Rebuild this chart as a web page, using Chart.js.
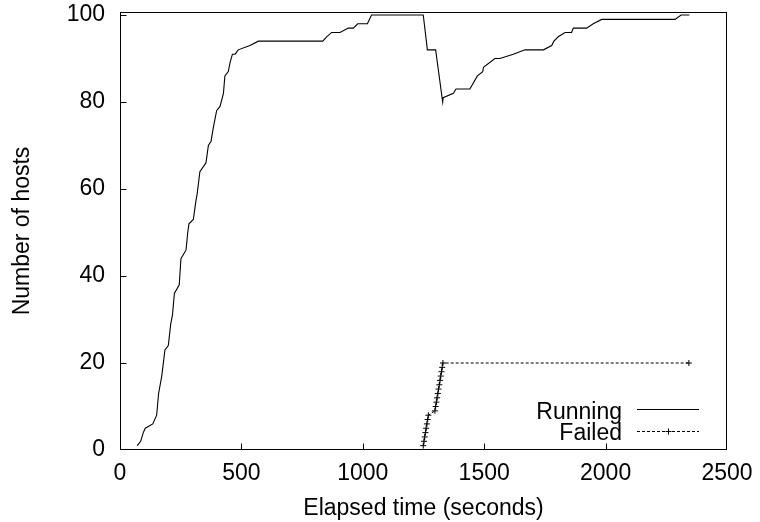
<!DOCTYPE html>
<html>
<head>
<meta charset="utf-8">
<script src="https://cdn.jsdelivr.net/npm/chart.js@4/dist/chart.umd.min.js"></script>
<style>
  html, body { margin: 0; padding: 0; background: #fff; }
  #wrap { width: 760px; height: 522px; position: relative; }
</style>
</head>
<body>
<div id="wrap"><canvas id="c" width="760" height="522"></canvas></div>
<script>
// ---- data ----
const runTime  = [71,85,96,104,135,151,159,172,185,199,209,216,224,244,251,272,279,284,302,312,318,329,354,364,375,384,398,412,426,432,446,453,463,474,487,535,570,835,851,872,906,940,961,979,1019,1036,1249,1266,1300,1329,1331,1373,1384,1441,1472,1494,1497,1544,1565,1620,1668,1744,1778,1787,1805,1833,1860,1867,1922,1949,1984,2286,2311,2345];
const runHosts = [1,2,4,5,6,8,13,17,23,24,29,31,36,38,44,46,50,52,53,57,59,64,66,70,71,74,78,79,82,86,87,89,91,91,92,93,94,94,95,96,96,97,97,98,98,100,100,92,92,80,81,82,83,83,86,87,88,90,90,91,92,92,93,94,95,96,96,97,97,98,99,99,100,100];
const failTime  = [1249,1252,1255,1258,1261,1264,1267,1270,1297,1300,1303,1306,1309,1312,1315,1318,1321,1324,1327,1330,2343];
const failHosts = [1,2,3,4,5,6,7,8,9,10,11,12,13,14,15,16,17,18,19,20,20];
const seriesLabels = ["Running", "Failed"];
const xTicks = [0, 500, 1000, 1500, 2000, 2500];
const yTicks = [0, 20, 40, 60, 80, 100];
const xTitle = "Elapsed time (seconds)";
const yTitle = "Number of hosts";

const FONT = "'Liberation Sans', Arial, Helvetica, sans-serif";

const toPts = (xs, ys) => xs.map((x, i) => ({ x: x, y: ys[i] }));

// frame (box), inward tick marks, and legend inside the plot (text left of sample)
const framePlugin = {
  id: 'frameLegend',
  afterDraw(chart) {
    const ctx = chart.ctx;
    const a = chart.chartArea;
    const L = Math.round(a.left) + 0.5, R = Math.round(a.right) - 0.5;
    const T = Math.round(a.top) + 0.5, B = Math.round(a.bottom) - 0.5;
    const clamp = (v, lo, hi) => Math.min(Math.max(v, lo), hi);
    ctx.save();
    ctx.strokeStyle = '#000';
    ctx.lineWidth = 1;
    ctx.setLineDash([]);
    ctx.strokeRect(L, T, R - L, B - T);

    // inward ticks on left and bottom axes
    const xs = chart.scales.x, ys = chart.scales.y;
    ctx.beginPath();
    xs.ticks.forEach(t => {
      const px = clamp(Math.round(xs.getPixelForValue(t.value)) + 0.5, L, R);
      ctx.moveTo(px, B); ctx.lineTo(px, B - 6);
    });
    ys.ticks.forEach(t => {
      const py = clamp(Math.round(ys.getPixelForValue(t.value)) + 0.5, T, B);
      ctx.moveTo(L, py); ctx.lineTo(L + 6, py);
    });
    ctx.stroke();

    // legend
    const textRight = a.right - 105;
    const x1 = a.right - 90, x2 = a.right - 28;
    const baselines = [a.bottom - 31.3, a.bottom - 10];
    ctx.font = '23px ' + FONT;
    ctx.fillStyle = '#000';
    ctx.textAlign = 'right';
    ctx.textBaseline = 'alphabetic';
    chart.data.datasets.forEach((ds, i) => {
      const by = baselines[i];
      ctx.fillText(ds.label, textRight, by);
      const ly = Math.round(by - 9.5) + 0.5;
      ctx.strokeStyle = '#000';
      ctx.lineWidth = 1;
      ctx.setLineDash(ds.borderDash || []);
      ctx.beginPath();
      ctx.moveTo(x1, ly);
      ctx.lineTo(x2, ly);
      ctx.stroke();
      ctx.setLineDash([]);
      if (ds.pointRadius > 0) {
        const mx = Math.round((x1 + x2) / 2) + 0.5;
        const r = ds.pointRadius;
        ctx.beginPath();
        ctx.moveTo(mx - r, ly); ctx.lineTo(mx + r, ly);
        ctx.moveTo(mx, ly - r); ctx.lineTo(mx, ly + r);
        ctx.stroke();
      }
    });
    ctx.restore();
  }
};

new Chart(document.getElementById('c'), {
  type: 'line',
  data: {
    datasets: [
      {
        label: seriesLabels[0],
        data: toPts(runTime, runHosts),
        borderColor: '#000',
        borderWidth: 1.1,
        pointRadius: 0,
        tension: 0,
        fill: false
      },
      {
        label: seriesLabels[1],
        data: toPts(failTime, failHosts),
        borderColor: '#000',
        borderWidth: 1,
        borderDash: [3, 2],
        pointStyle: 'cross',
        pointRadius: 3,
        pointBorderColor: '#000',
        pointBorderWidth: 1,
        tension: 0,
        fill: false
      }
    ]
  },
  options: {
    responsive: false,
    animation: false,
    devicePixelRatio: 1,
    layout: { padding: { top: 12, right: 33, left: 0, bottom: 0 } },
    plugins: {
      legend: { display: false },
      tooltip: { enabled: false }
    },
    scales: {
      x: {
        type: 'linear',
        position: 'bottom',
        min: 0,
        max: 2500,
        afterBuildTicks(s) { s.ticks = xTicks.map(v => ({ value: v })); },
        afterFit(s) { s.height = 72; s.paddingLeft = 0; s.paddingRight = 0; },
        border: { display: false },
        grid: { display: false, drawTicks: false },
        ticks: { color: '#000', padding: 10, maxRotation: 0, autoSkip: false,
                 callback: v => String(v), font: { family: FONT, size: 23 } },
        title: { display: true, text: xTitle, color: '#000', font: { family: FONT, size: 23, lineHeight: 1 }, padding: { top: 0, bottom: 1.5 } }
      },
      y: {
        type: 'linear',
        position: 'left',
        min: 0,
        max: 100.7,
        afterBuildTicks(s) { s.ticks = yTicks.map(v => ({ value: v })); },
        afterFit(s) { s.width = 120; s.paddingTop = 0; s.paddingBottom = 0; },
        border: { display: false },
        grid: { display: false, drawTicks: false },
        ticks: { color: '#000', padding: 15, autoSkip: false,
                 callback: v => String(v), font: { family: FONT, size: 23 } },
        title: { display: true, text: yTitle, color: '#000', font: { family: FONT, size: 23, lineHeight: 1 }, padding: { top: 11, bottom: 0 } }
      }
    }
  },
  plugins: [framePlugin]
});
</script>
</body>
</html>
